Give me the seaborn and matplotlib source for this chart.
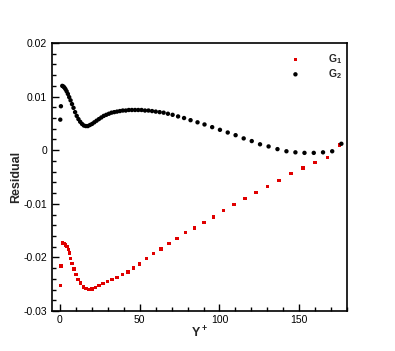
import seaborn as sns
import matplotlib.pyplot as plt
import matplotlib.ticker as mticker
import pandas as pd

# Residual data
yplus_g2 = [0.2, 0.6, 1.44, 2.06, 2.73, 3.43, 4.18, 4.96, 5.79, 6.65, 7.56, 8.5,
            9.49, 10.51, 11.58, 12.68, 13.83, 15.01, 16.23, 17.49, 18.8, 20.14,
            21.53, 22.95, 24.41, 25.92, 27.46, 29.04, 30.67, 32.33, 34.04, 35.78,
            37.56, 39.39, 41.25, 43.15, 45.09, 47.08, 49.1, 51.16, 53.31, 55.5,
            57.75, 60.06, 62.5, 65.0, 67.69, 70.63, 74.06, 77.81, 81.88, 86.25,
            90.63, 95.44, 100.31, 105.19, 110.13, 115.19, 120.25, 125.44, 130.81,
            136.38, 142.0, 147.63, 153.31, 159.13, 164.94, 170.69, 176.44]
g2 = [0.0057, 0.0082, 0.0120, 0.0119, 0.0117, 0.0114, 0.0110, 0.0105, 0.0099,
      0.0093, 0.0086, 0.0079, 0.0071, 0.0064, 0.0058, 0.0053, 0.0049, 0.0046,
      0.0045, 0.0045, 0.0047, 0.0049, 0.0052, 0.0055, 0.0058, 0.0061, 0.0064,
      0.0066, 0.0068, 0.0070, 0.0071, 0.0072, 0.0073, 0.0074, 0.0074, 0.0075,
      0.0075, 0.0075, 0.0075, 0.0075, 0.0074, 0.0074, 0.0073, 0.0072, 0.0071,
      0.0070, 0.0068, 0.0066, 0.0063, 0.0060, 0.0056, 0.0052, 0.0048, 0.0043,
      0.0038, 0.0033, 0.0028, 0.0022, 0.0017, 0.0011, 0.0007, 0.0002, -0.0002,
      -0.0004, -0.0005, -0.0005, -0.0004, -0.0002, 0.0012]

yplus_g1 = [0.2, 0.6, 1.7, 2.5, 3.6, 4.4, 5.2, 6.1, 6.7, 7.5, 8.75, 10.0, 11.4,
            12.9, 14.6, 16.25, 18.1, 20.0, 22.3, 24.6, 27.1, 29.8, 32.7, 35.8,
            39.2, 42.7, 46.25, 50.0, 54.4, 58.75, 63.3, 68.3, 73.3, 78.75, 84.4,
            90.2, 96.25, 102.5, 109.2, 115.9, 122.9, 130.0, 137.3, 144.8, 152.3,
            160.0, 167.7, 175.4]
g1 = [-0.0253, -0.0216, -0.0173, -0.0174, -0.0177, -0.0180, -0.0185, -0.0192,
      -0.0202, -0.0211, -0.0222, -0.0232, -0.0241, -0.0248, -0.0255, -0.0258,
      -0.0260, -0.0259, -0.0256, -0.0253, -0.0249, -0.0245, -0.0241, -0.0237,
      -0.0232, -0.0227, -0.0220, -0.0212, -0.0202, -0.0193, -0.0184, -0.0174,
      -0.0165, -0.0154, -0.0145, -0.0135, -0.0125, -0.0113, -0.0101, -0.0090,
      -0.0079, -0.0068, -0.0056, -0.0044, -0.0033, -0.0023, -0.0014, 0.0010]

yticks = [-0.03, -0.02, -0.01, 0, 0.01, 0.02]
ytick_labels = ['-0.03', '-0.02', '-0.01', '0', '0.01', '0.02']

sns.set_style('ticks')
plt.rcParams['font.family'] = ['Liberation Sans', 'DejaVu Sans']
plt.rcParams['mathtext.fontset'] = 'custom'
plt.rcParams['mathtext.rm'] = 'Liberation Sans'
plt.rcParams['mathtext.bf'] = 'Liberation Sans:bold'
plt.rcParams['axes.unicode_minus'] = False

df1 = pd.DataFrame({'Y+': yplus_g1, 'Residual': g1})
df2 = pd.DataFrame({'Y+': yplus_g2, 'Residual': g2})

fig = plt.figure(figsize=(3.95, 3.51), dpi=100)
ax = fig.add_axes([0.1316, 0.114, 0.747, 0.7635])

sns.scatterplot(data=df1, x='Y+', y='Residual', ax=ax, marker='s', s=6,
                color='#e00000', edgecolor='none', label=r'$\mathbf{G_1}$')
sns.scatterplot(data=df2, x='Y+', y='Residual', ax=ax, marker='o', s=10,
                color='black', edgecolor='none', label=r'$\mathbf{G_2}$')

ax.set_xlim(-5, 180)
ax.set_ylim(-0.03, 0.02)
ax.set_xticks([0, 50, 100, 150])
ax.xaxis.set_minor_locator(mticker.MultipleLocator(10))
ax.set_yticks(yticks)
ax.set_yticklabels(ytick_labels)
ax.yaxis.set_minor_locator(mticker.MultipleLocator(0.002))
ax.tick_params(which='both', direction='in', labelsize=7.5, width=1.0, colors='black')
ax.tick_params(which='major', length=5)
ax.tick_params(which='minor', length=3)
ax.tick_params(axis='x', pad=3)
for sp in ax.spines.values():
    sp.set_linewidth(1.2)
    sp.set_color('black')

ax.set_xlabel(r'$\mathbf{Y^+}$', fontsize=9, labelpad=0)
ax.set_ylabel('Residual', fontsize=9, fontweight='bold', labelpad=1)

ax.legend(loc='upper right', bbox_to_anchor=(1.0, 0.985), frameon=False,
          fontsize=7.5, handletextpad=2.6, handlelength=1.0, labelspacing=0.1,
          borderpad=0, markerscale=1.0)

plt.savefig('out.png', dpi=100)
